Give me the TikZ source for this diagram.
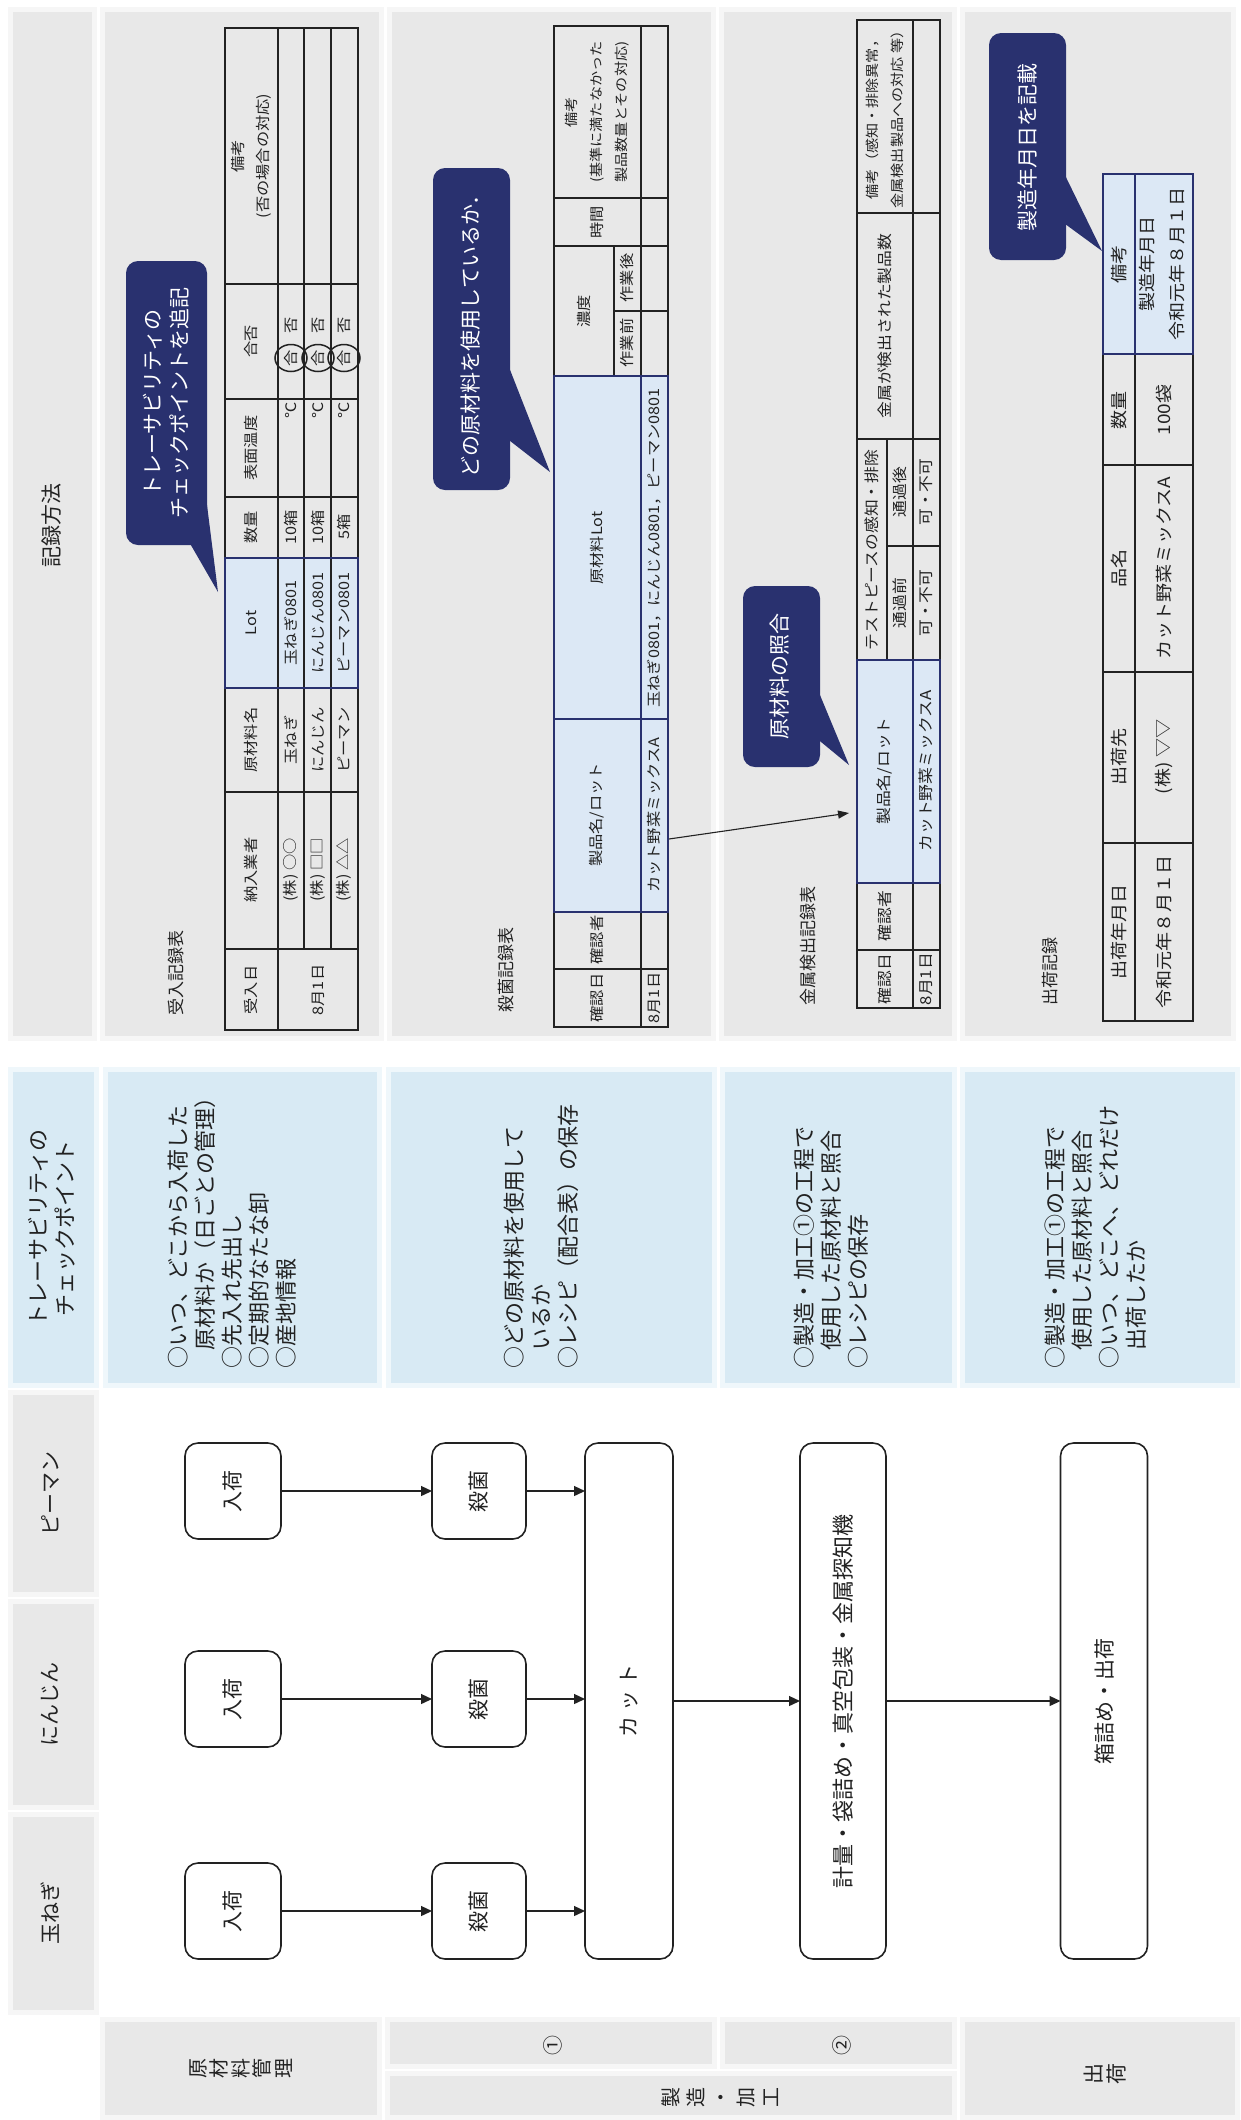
\documentclass[tikz,border=0pt]{standalone}
\usepackage{graphicx}
\usepackage{fontspec}
\setmainfont{Noto Sans CJK JP}
\newfontfamily\tbl[FakeStretch=1.12]{Noto Sans CJK JP}
\usetikzlibrary{arrows.meta,calc}
\definecolor{ink}{HTML}{222222}
\definecolor{pgray}{HTML}{E8E8E8}
\definecolor{pblue}{HTML}{D8EAF4}
\definecolor{navy}{HTML}{29316F}
\definecolor{hlc}{HTML}{DCE8F5}
\newcommand\fsz[2]{\fontsize{#1pt}{#2pt}\selectfont}
\newcommand\panel[5]{\fill[#5!40!white] (#1,#2) rectangle (#3,#4); \fill[#5] (#1+5,#2+5) rectangle (#3-5,#4-5);}
\begin{document}
\begin{tikzpicture}[x=1pt,y=-1pt,
  every node/.style={inner sep=0pt, outer sep=0pt, text=ink},
  box/.style={draw=ink, line width=1.6pt, rounded corners=13pt, fill=white, font=\fsz{21}{25}, align=center},
  arr/.style={draw=ink, line width=1.3pt, -{Triangle[length=11pt,width=10pt]}},
  lbl/.style={rotate=90, font=\fsz{21}{27}, align=center},
  stack/.style={rotate=90, font=\fsz{20}{22}, align=center},
  cp/.style={rotate=90, anchor=west, align=left, font=\fsz{22}{27}},
  ttl/.style={rotate=90, anchor=west, font=\fsz{17}{20}},
  ta/.style={rotate=90, font=\tbl\fsz{14.5}{25}, align=center},
  tb/.style={rotate=90, font=\tbl\fsz{15}{25}, align=center},
  tc/.style={rotate=90, font=\tbl\fsz{17}{30}, align=center},
  tl/.style={draw=ink, line width=1.1pt},
  tlb/.style={draw=ink, line width=2.2pt},
  hlb/.style={draw=navy, line width=2.8pt},
  bub/.style={fill=navy, rounded corners=12pt},
  bt/.style={rotate=90, text=white, font=\fsz{21}{27}, align=center}
]
\useasboundingbox (0,0) rectangle (1240,2120);
\fill[white] (0,0) rectangle (1240,2120);

% ---------- panels ----------
\panel{8}{7}{97}{1041}{pgray}
\panel{8}{1067}{99}{1388}{pblue}
\panel{8}{1390}{99}{1597}{pgray}
\panel{8}{1599}{99}{1810}{pgray}
\panel{8}{1812}{99}{2015}{pgray}
\panel{100}{7}{384}{1041}{pgray}
\panel{387}{7}{716}{1041}{pgray}
\panel{719}{7}{957}{1041}{pgray}
\panel{960}{7}{1236}{1041}{pgray}
\panel{103}{1067}{382}{1388}{pblue}
\panel{386}{1067}{717}{1388}{pblue}
\panel{720}{1067}{957}{1388}{pblue}
\panel{960}{1067}{1240}{1388}{pblue}
\panel{100}{2017}{382}{2120}{pgray}
\panel{385}{2017}{717}{2069}{pgray}
\panel{720}{2017}{957}{2069}{pgray}
\panel{385}{2071}{957}{2120}{pgray}
\panel{960}{2017}{1240}{2120}{pgray}

% ---------- header labels ----------
\node[lbl] (hrec) at (52,525) {記録方法};
\node[lbl, font=\fsz{22}{27}] (hcp) at (52,1228) {トレーサビリティの\\チェックポイント};
\node[lbl] (hp) at (50,1493) {ピーマン};
\node[lbl] (hn) at (50,1704) {にんじん};
\node[lbl] (ht) at (50,1913) {玉ねぎ};
\node[stack, font=\fsz{20}{21.5}] (bgen) at (241,2068) {原\\材\\料\\管\\理};
\node[stack, font=\fsz{20}{25}] (bsei) at (720,2097) {製\\造\\・\\加\\工};
\node[lbl, font=\fsz{20}{22}] (b1) at (553,2045) {①};
\node[lbl, font=\fsz{20}{22}] (b2) at (842,2045) {②};
\node[stack, font=\fsz{21}{23}] (bship) at (1105,2074) {出\\荷};

% ---------- checkpoint texts ----------
\node[cp] (cp1) at (232,1368) {○いつ、どこから入荷した\\\hspace*{0.8em}原材料か（日ごとの管理）\\○先入れ先出し\\○定期的なたな卸\\○産地情報};
\node[cp] (cp2) at (541,1368) {○どの原材料を使用して\\\hspace*{0.8em}いるか\\○レシピ（配合表）の保存};
\node[cp] (cp3) at (831,1368) {○製造・加工①の工程で\\\hspace*{0.8em}使用した原材料と照合\\○レシピの保存};
\node[cp] (cp4) at (1096,1368) {○製造・加工①の工程で\\\hspace*{0.8em}使用した原材料と照合\\○いつ、どこへ、どれだけ\\\hspace*{0.8em}出荷したか};

% ---------- table titles ----------
\node[ttl] (t1) at (176,1015) {受入記録表};
\node[ttl] (t2) at (506,1012) {殺菌記録表};
\node[ttl] (t3) at (808,1005) {金属検出記録表};
\node[ttl] (t4) at (1050,1005) {出荷記録};

% ---------- 受入記録表 ----------
\fill[hlc] (225,558) rectangle (358,688);
\draw[tl] (225,28) rectangle (358,1030);
\draw[tl] (278,28) -- (278,1030);
\draw[tl] (304,28) -- (304,949);
\draw[tl] (331,28) -- (331,949);
\foreach \yy in {949,792,688,558,497,399,284} \draw[tl] (225,\yy) -- (358,\yy);
\draw[hlb] (225,558) rectangle (358,688);
\node[ta] at (251,990) {受入日};
\node[ta] at (318,990) {8月1日};
\node[ta] at (251,870) {納入業者};
\node[ta] at (291,870) {(株) ○○};
\node[ta] at (318,870) {(株) □□};
\node[ta] at (344,870) {(株) △△};
\node[ta] at (251,740) {原材料名};
\node[ta] at (291,740) {玉ねぎ};
\node[ta] at (318,740) {にんじん};
\node[ta] at (344,740) {ピーマン};
\node[ta] at (251,623) {Lot};
\node[ta] at (291,623) {玉ねぎ0801};
\node[ta] at (318,623) {にんじん0801};
\node[ta] at (344,623) {ピーマン0801};
\node[ta] at (251,527) {数量};
\node[ta] at (291,527) {10箱};
\node[ta] at (318,527) {10箱};
\node[ta] at (344,527) {5箱};
\node[ta] at (251,448) {表面温度};
\node[ta, anchor=east] at (291,402) {℃};
\node[ta, anchor=east] at (318,402) {℃};
\node[ta, anchor=east] at (344,402) {℃};
\node[ta] at (251,341) {合否};
\foreach \xx in {291,318,344}{
  \node[ta] at (\xx,358) {合};
  \node[ta] at (\xx,325) {否};
  \draw[ink, line width=1.5pt] (\xx,358) ellipse [x radius=16pt, y radius=13.5pt];
}
\node[ta] at (251,156) {備考\\(否の場合の対応)};

% ---------- 殺菌記録表 ----------
\fill[hlc] (554,376) rectangle (668,912);
\draw[tl] (554,26) rectangle (668,1027);
\draw[tl] (641,26) -- (641,1027);
\foreach \yy in {969,912,719,376,246,198} \draw[tl] (554,\yy) -- (668,\yy);
\draw[tl] (614,246) -- (614,376);
\draw[tl] (614,311) -- (668,311);
\draw[hlb] (554,376) rectangle (668,912);
\draw[hlb] (554,719) -- (668,719);
\draw[hlb] (641,376) -- (641,912);
\node[ta] at (597,998) {確認日};
\node[ta] at (654,998) {8月1日};
\node[ta] at (597,940) {確認者};
\node[ta] at (597,815) {製品名/ロット};
\node[ta] (sk) at (654,815) {カット野菜ミックスA};
\node[ta] at (597,548) {原材料Lot};
\node[ta] at (654,548) {玉ねぎ0801，にんじん0801，ピーマン0801};
\node[ta] at (584,311) {濃度};
\node[ta] at (627,343) {作業前};
\node[ta] at (627,278) {作業後};
\node[ta] at (597,222) {時間};
\node[ta, font=\tbl\fsz{13.5}{25}] at (597,112) {備考\\(基準に満たなかった\\製品数量とその対応)};

% ---------- 金属検出記録表 ----------
\fill[hlc] (857,660) rectangle (940,883);
\draw[tl, line width=1.6pt] (857,20) rectangle (940,1008);
\draw[tl, line width=1.6pt] (913,20) -- (913,1008);
\foreach \yy in {950,883,660,439,213} \draw[tl, line width=1.6pt] (857,\yy) -- (940,\yy);
\draw[tl] (887,439) -- (887,660);
\draw[tl] (887,546) -- (940,546);
\draw[hlb] (857,660) rectangle (940,883);
\draw[hlb] (913,660) -- (913,883);
\node[tb] at (885,979) {確認日};
\node[tb] at (926,979) {8月1日};
\node[tb] at (885,916) {確認者};
\node[tb] at (885,771) {製品名/ロット};
\node[tb] (mk) at (926,771) {カット野菜ミックスA};
\node[tb] at (872,550) {テストピースの感知・排除};
\node[tb] at (900,603) {通過前};
\node[tb] at (900,492) {通過後};
\node[tb] at (926,603) {可・不可};
\node[tb] at (926,492) {可・不可};
\node[tb] at (885,326) {金属が検出された製品数};
\node[tb, font=\tbl\fsz{13.5}{25}] at (885,116) {備考（感知・排除異常，\\金属検出製品への対応 等）};

% ---------- 出荷記録 ----------
\fill[hlc] (1103,174) rectangle (1193,354);
\draw[tlb] (1103,354) rectangle (1193,1021);
\draw[tlb] (1135,354) -- (1135,1021);
\foreach \yy in {843,672,465} \draw[tlb] (1103,\yy) -- (1193,\yy);
\draw[hlb] (1103,174) rectangle (1193,354);
\draw[hlb] (1135,174) -- (1135,354);
\node[tc] at (1119,932) {出荷年月日};
\node[tc] at (1164,932) {令和元年８月１日};
\node[tc] at (1119,757) {出荷先};
\node[tc] at (1164,757) {(株) ▽▽};
\node[tc] at (1119,568) {品名};
\node[tc] at (1164,568) {カット野菜ミックスA};
\node[tc] at (1119,410) {数量};
\node[tc] at (1164,410) {100袋};
\node[tc] at (1119,264) {備考};
\node[tc] at (1162,264) {製造年月日\\令和元年８月１日};

% ---------- callouts ----------
\fill[bub] (126,261) rectangle (207,545);
\fill[navy] (188,540) -- (207,505) -- (218,592) -- cycle;
\node[bt] (c1) at (166,403) {トレーサビリティの\\チェックポイントを追記};
\fill[bub] (433,168) rectangle (510,490);
\fill[navy] (505,357) -- (505,437) -- (550,472) -- cycle;
\node[bt] (c2) at (471,331) {どの原材料を使用しているか．};
\fill[bub] (743,586) rectangle (820,767);
\fill[navy] (815,683) -- (815,737) -- (849,765) -- cycle;
\node[bt] (c3) at (780,676) {原材料の照合};
\fill[bub] (989,33) rectangle (1066,260);
\fill[navy] (1061,167) -- (1061,221) -- (1102,251) -- cycle;
\node[bt] (c4) at (1027,147) {製造年月日を記載};

% arrow between tables
\coordinate (p1) at (669,839);
\coordinate (p2) at (849,813);
\draw[draw=ink, line width=1.1pt, -{Triangle[length=11pt,width=8pt]}] (p1) -- (p2);

% ---------- flow ----------
\node[box, minimum width=96pt, minimum height=96pt] (in1) at (233,1491) {\rotatebox{90}{入荷}};
\node[box, minimum width=96pt, minimum height=96pt] (in2) at (233,1699) {\rotatebox{90}{入荷}};
\node[box, minimum width=96pt, minimum height=96pt] (in3) at (233,1911) {\rotatebox{90}{入荷}};
\node[box, minimum width=94pt, minimum height=96pt] (sa1) at (479,1491) {\rotatebox{90}{殺菌}};
\node[box, minimum width=94pt, minimum height=96pt] (sa2) at (479,1699) {\rotatebox{90}{殺菌}};
\node[box, minimum width=94pt, minimum height=96pt] (sa3) at (479,1911) {\rotatebox{90}{殺菌}};
\node[box, minimum width=88pt, minimum height=516pt] (cut) at (629,1701) {\rotatebox{90}{カ\hspace{5pt}ッ\hspace{5pt}ト}};
\node[box, minimum width=86pt, minimum height=516pt, font=\fsz{22}{25}] (pack) at (843,1701) {\rotatebox{90}{計量・袋詰め・真空包装・金属探知機}};
\node[box, minimum width=87pt, minimum height=516pt] (ship) at (1104,1701) {\rotatebox{90}{箱詰め・出荷}};
\draw[arr] (in1) -- (sa1);
\draw[arr] (in2) -- (sa2);
\draw[arr] (in3) -- (sa3);
\draw[arr] (sa1.east) -- (sa1.east -| cut.west);
\draw[arr] (sa2.east) -- (sa2.east -| cut.west);
\draw[arr] (sa3.east) -- (sa3.east -| cut.west);
\draw[arr] (cut) -- (pack);
\draw[arr] (pack) -- (ship);
\end{tikzpicture}
\end{document}
